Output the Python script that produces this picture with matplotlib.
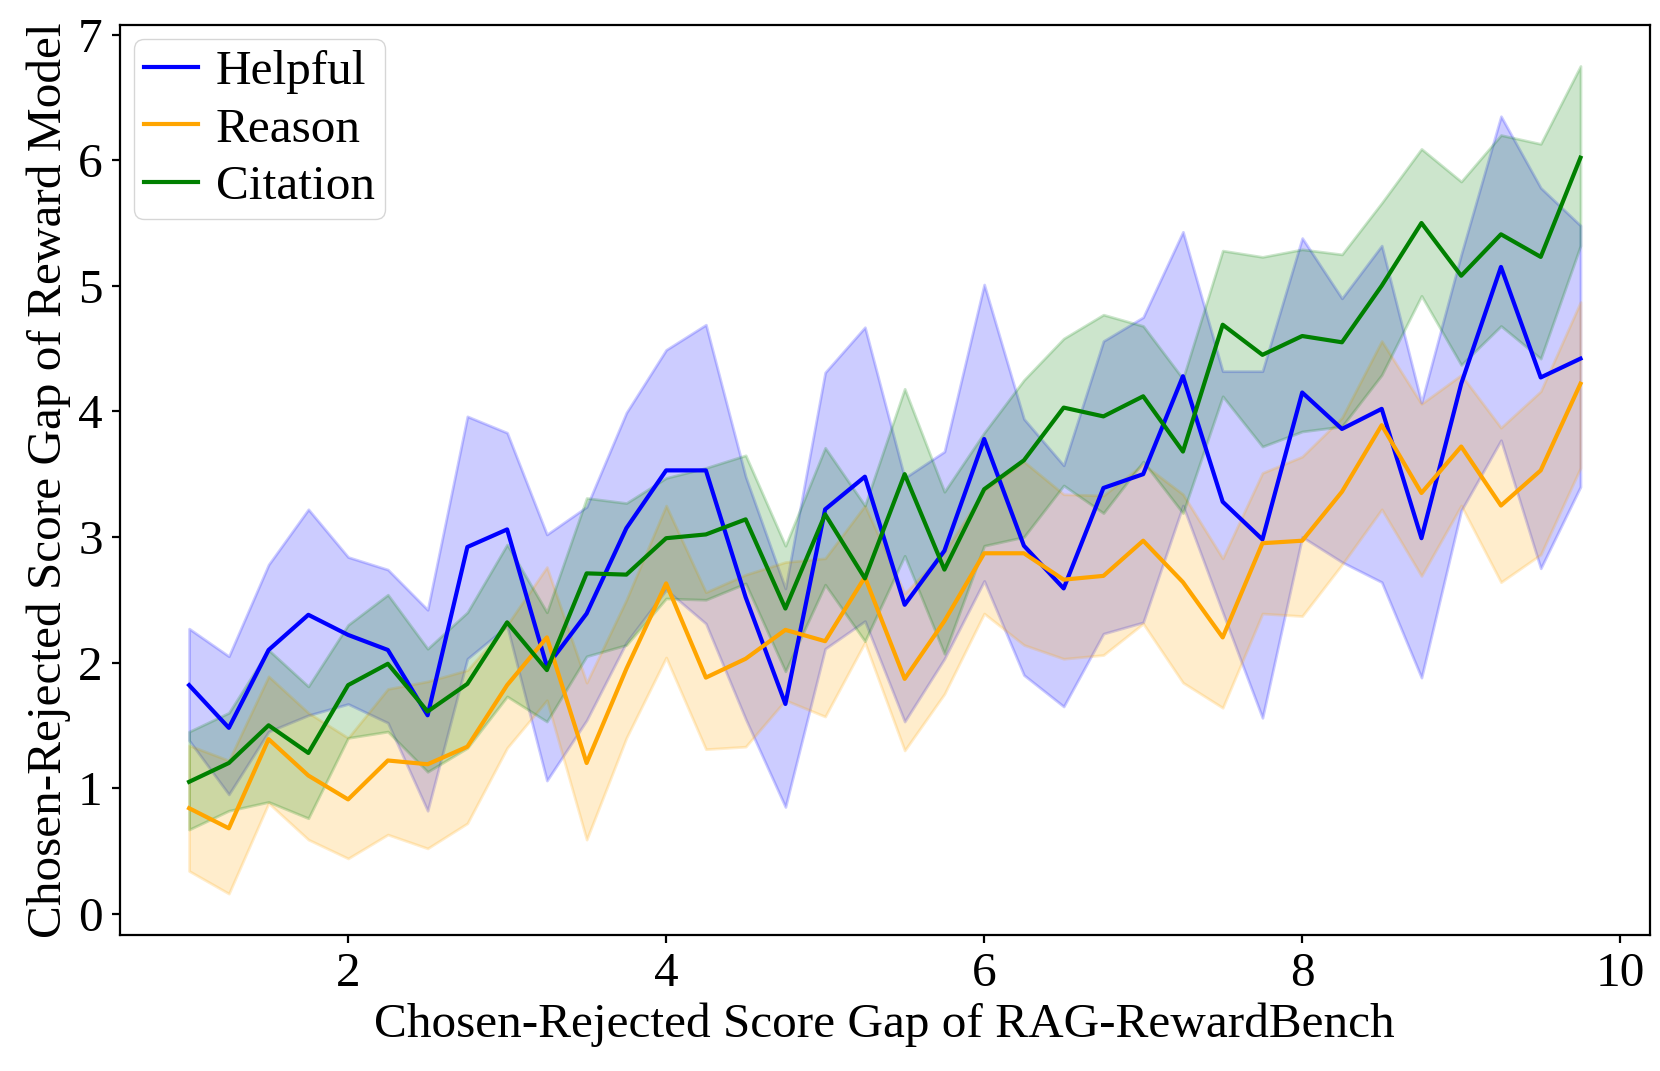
import matplotlib
matplotlib.use("Agg")
import matplotlib.pyplot as plt
import numpy as np

# x positions of the score-gap bins
gap = [1.0, 1.25, 1.5, 1.75, 2.0, 2.25, 2.5, 2.75, 3.0, 3.25, 3.5, 3.75,
       4.0, 4.25, 4.5, 4.75, 5.0, 5.25, 5.5, 5.75, 6.0, 6.25, 6.5, 6.75,
       7.0, 7.25, 7.5, 7.75, 8.0, 8.25, 8.5, 8.75, 9.0, 9.25, 9.5, 9.75]

helpful_mean = [1.82, 1.48, 2.10, 2.38, 2.22, 2.10, 1.58, 2.92, 3.06, 1.97, 2.39, 3.07,
                3.53, 3.53, 2.52, 1.67, 3.22, 3.48, 2.46, 2.89, 3.78, 2.93, 2.59, 3.39,
                3.50, 4.28, 3.28, 2.98, 4.15, 3.86, 4.02, 2.99, 4.22, 5.15, 4.27, 4.42]
helpful_upper = [2.27, 2.05, 2.78, 3.22, 2.84, 2.74, 2.42, 3.96, 3.83, 3.02, 3.24, 3.99,
                 4.49, 4.69, 3.48, 2.59, 4.31, 4.67, 3.47, 3.68, 5.01, 3.94, 3.57, 4.56,
                 4.75, 5.43, 4.32, 4.32, 5.38, 4.90, 5.32, 4.07, 5.25, 6.35, 5.78, 5.48]
helpful_lower = [1.38, 0.95, 1.45, 1.58, 1.67, 1.52, 0.82, 2.03, 2.29, 1.06, 1.54, 2.16,
                 2.58, 2.31, 1.55, 0.85, 2.11, 2.33, 1.53, 2.03, 2.65, 1.90, 1.65, 2.23,
                 2.32, 3.25, 2.40, 1.56, 3.00, 2.80, 2.64, 1.88, 3.21, 3.77, 2.75, 3.40]

reason_mean = [0.84, 0.68, 1.39, 1.10, 0.91, 1.22, 1.19, 1.33, 1.82, 2.20, 1.20, 1.95,
               2.63, 1.88, 2.03, 2.26, 2.17, 2.68, 1.87, 2.33, 2.87, 2.87, 2.66, 2.69,
               2.97, 2.64, 2.20, 2.95, 2.97, 3.36, 3.89, 3.35, 3.72, 3.25, 3.53, 4.22]
reason_upper = [1.34, 1.22, 1.89, 1.60, 1.40, 1.79, 1.85, 1.94, 2.30, 2.76, 1.84, 2.50,
                3.25, 2.56, 2.70, 2.80, 2.83, 3.25, 2.55, 2.88, 3.37, 3.60, 3.34, 3.33,
                3.58, 3.34, 2.83, 3.51, 3.64, 3.95, 4.56, 4.06, 4.29, 3.87, 4.16, 4.87]
reason_lower = [0.34, 0.16, 0.88, 0.59, 0.44, 0.63, 0.52, 0.72, 1.32, 1.70, 0.59, 1.40,
                2.04, 1.31, 1.33, 1.70, 1.57, 2.16, 1.30, 1.75, 2.39, 2.14, 2.03, 2.06,
                2.31, 1.84, 1.64, 2.39, 2.37, 2.78, 3.22, 2.69, 3.25, 2.64, 2.86, 3.55]

citation_mean = [1.05, 1.20, 1.50, 1.28, 1.82, 1.99, 1.61, 1.83, 2.32, 1.94, 2.71, 2.70,
                 2.99, 3.02, 3.14, 2.43, 3.18, 2.67, 3.50, 2.74, 3.38, 3.61, 4.03, 3.96,
                 4.12, 3.68, 4.69, 4.45, 4.60, 4.55, 5.00, 5.50, 5.08, 5.41, 5.23, 6.02]
citation_upper = [1.45, 1.60, 2.10, 1.81, 2.30, 2.54, 2.11, 2.40, 2.94, 2.40, 3.31, 3.27,
                  3.47, 3.55, 3.65, 2.93, 3.71, 3.25, 4.18, 3.36, 3.83, 4.25, 4.58, 4.77,
                  4.68, 4.26, 5.28, 5.23, 5.29, 5.25, 5.66, 6.09, 5.83, 6.20, 6.13, 6.75]
citation_lower = [0.67, 0.82, 0.89, 0.76, 1.40, 1.45, 1.13, 1.32, 1.73, 1.53, 2.05, 2.14,
                  2.51, 2.50, 2.63, 1.93, 2.62, 2.17, 2.85, 2.07, 2.93, 3.00, 3.41, 3.19,
                  3.60, 3.19, 4.12, 3.72, 3.84, 3.88, 4.29, 4.92, 4.37, 4.68, 4.42, 5.32]

plt.rcParams['font.family'] = ['Liberation Serif', 'DejaVu Serif']

FS = 35.5

fig = plt.figure(figsize=(16.6, 10.71), dpi=100)
ax = fig.add_axes([0.072, 0.127, 0.922, 0.850])

series = [
    ("Helpful", helpful_mean, helpful_lower, helpful_upper, "blue"),
    ("Reason", reason_mean, reason_lower, reason_upper, "orange"),
    ("Citation", citation_mean, citation_lower, citation_upper, "green"),
]
for name, mean, lo, hi, col in series:
    ax.plot(gap, mean, color=col, linewidth=3, label=name)
    ax.fill_between(gap, lo, hi, color=col, alpha=0.2, linewidth=2)

ax.set_xlabel("Chosen-Rejected Score Gap of RAG-RewardBench", fontsize=FS, labelpad=5)
ax.set_ylabel("Chosen-Rejected Score Gap of Reward Model", fontsize=FS, labelpad=5)
ax.tick_params(axis="both", labelsize=FS, length=6, width=1.6, pad=6)
for sp in ax.spines.values():
    sp.set_linewidth(1.6)

ax.legend(loc="upper left", fontsize=FS, handlelength=1.1, labelspacing=0.27,
          borderpad=0.2, borderaxespad=0.3, handletextpad=0.35, framealpha=0.8)

fig.savefig("out.png", dpi=100)
